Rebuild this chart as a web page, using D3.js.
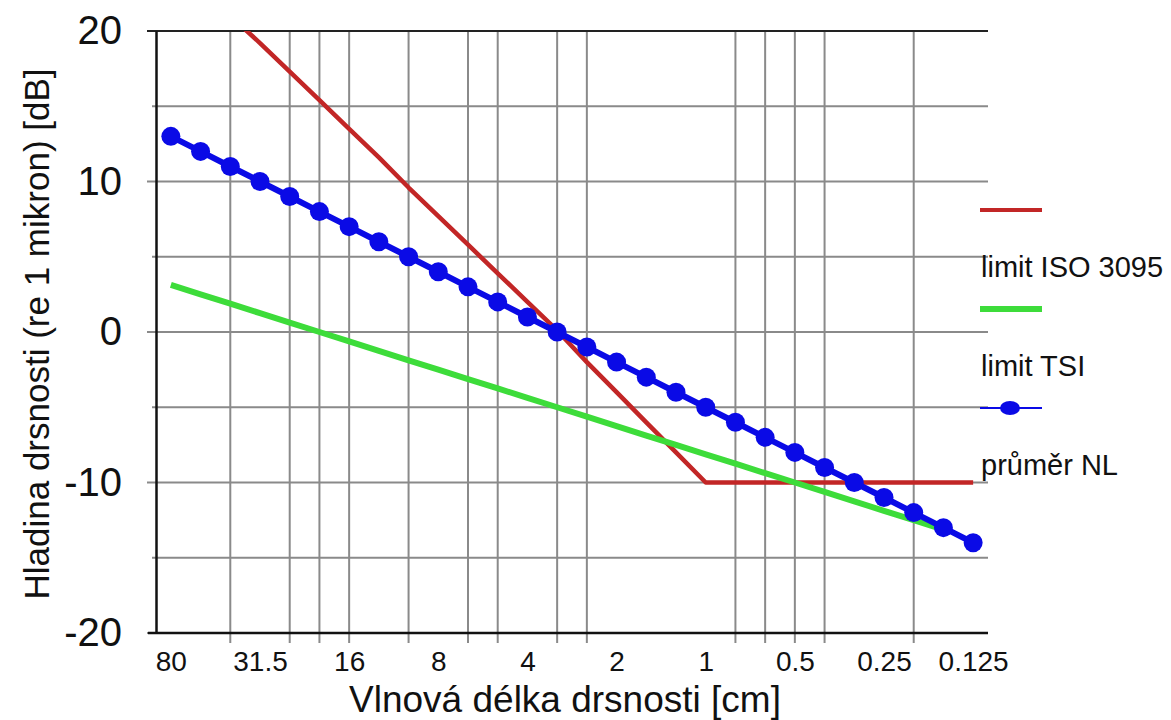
<!DOCTYPE html>
<html>
<head>
<meta charset="utf-8">
<script src="https://cdn.jsdelivr.net/npm/d3@7"></script>
<style>
  body { margin: 0; background: #fff; }
  svg { font-family: "Liberation Sans", Arial, sans-serif; }
</style>
</head>
<body>
<svg id="chart" width="1171" height="720"></svg>
<script>
// wavelength bands [cm], third-octave steps
const categories = ["80", "50", "40", "31.5", "25", "20", "16", "12.5", "10", "8",
  "6.3", "5", "4", "3.15", "2.5", "2", "1.6", "1.25", "1", "0.8",
  "0.63", "0.5", "0.4", "0.315", "0.25", "0.2", "0.16", "0.125"];
// labels shown on the x axis
const xLabels = ["80", "31.5", "16", "8", "4", "2", "1", "0.5", "0.25", "0.125"];
// bands that carry a vertical grid line
const xGrid = ["40", "25", "20", "16", "10", "6.3", "5", "3.15", "2.5", "0.8", "0.63", "0.5", "0.4", "0.2"];
const yLabels = [-20, -10, 0, 10, 20];
const yGrid = [-20, -15, -10, -5, 0, 5, 10, 15, 20];

// limit ISO 3095 [dB]
const isoLimit = [null, null, 21.0, 19.2, 17.3, 15.4, 13.5, 11.6, 9.6, 7.7,
  5.8, 3.9, 2.0, 0.1, -2.0, -4.0, -6.0, -8.0, -10, -10,
  -10, -10, -10, -10, -10, -10, -10, -10];
// limit TSI [dB]
const tsiLimit = [3.13, 2.5, 1.88, 1.25, 0.63, 0, -0.63, -1.25, -1.88, -2.5,
  -3.13, -3.75, -4.38, -5.0, -5.63, -6.25, -6.88, -7.5, -8.13, -8.75,
  -9.38, -10.0, -10.63, -11.25, -11.88, -12.5, -13.13, null];
// průměr NL [dB]
const nlAverage = [13, 12, 11, 10, 9, 8, 7, 6, 5, 4,
  3, 2, 1, 0, -1, -2, -3, -4, -5, -6,
  -7, -8, -9, -10, -11, -12, -13, -14];

const series = [
  { name: "limit ISO 3095", values: isoLimit, color: "#c22626", width: 4.5, marker: false, legendWidth: 4 },
  { name: "limit TSI", values: tsiLimit, color: "#3ddc3a", width: 6, marker: false, legendWidth: 6 },
  { name: "průměr NL", values: nlAverage, color: "#0a0ae6", width: 6, marker: true, legendWidth: 2 }
];

const plot = { left: 156, right: 988, top: 31, bottom: 633 };
const svg = d3.select("#chart");

let x = d3.scalePoint()
  .domain(categories)
  .range([plot.left, plot.right])
  .padding(0.5);

let y = d3.scaleLinear()
  .domain([-20, 20])
  .range([plot.bottom, plot.top]);

// grid
svg.append("g").selectAll("line")
  .data(xGrid)
  .enter().append("line")
  .attr("x1", d => x(d)).attr("x2", d => x(d))
  .attr("y1", plot.top).attr("y2", plot.bottom + 10)
  .attr("stroke", "#8a8a8a").attr("stroke-width", 2);

svg.append("g").selectAll("line")
  .data(yGrid)
  .enter().append("line")
  .attr("x1", d => plot.left - (d % 10 === 0 ? 9 : 4))
  .attr("x2", plot.right)
  .attr("y1", d => y(d)).attr("y2", d => y(d))
  .attr("stroke", d => d === 20 ? "#222" : "#8a8a8a")
  .attr("stroke-width", 2);

// axes
let yAxis = svg.append("g")
  .attr("transform", "translate(" + plot.left + ",0)")
  .call(d3.axisLeft(y).tickValues(yLabels).tickSize(0).tickPadding(34).tickFormat(d => String(d)));
yAxis.select(".domain").attr("stroke", "#111").attr("stroke-width", 2.5);
yAxis.selectAll("text").attr("font-size", 40).attr("fill", "#111");

let xAxis = svg.append("g")
  .attr("transform", "translate(0," + plot.bottom + ")")
  .call(d3.axisBottom(x).tickValues(xLabels).tickSize(0).tickPadding(18));
xAxis.select(".domain").attr("stroke", "#111").attr("stroke-width", 2.5)
  .attr("d", "M" + (plot.left - 8) + ",0H" + plot.right);
xAxis.selectAll("text").attr("font-size", 28).attr("fill", "#111");

// series
svg.append("defs").append("clipPath").attr("id", "plotClip")
  .append("rect")
  .attr("x", plot.left).attr("y", plot.top)
  .attr("width", plot.right - plot.left + 20)
  .attr("height", plot.bottom - plot.top);

let line = d3.line()
  .defined(d => d.v !== null)
  .x(d => x(d.c))
  .y(d => y(d.v));

let lines = svg.append("g").attr("clip-path", "url(#plotClip)");
for (let s of series) {
  let pts = s.values.map((v, i) => ({ c: categories[i], v: v }));
  lines.append("path")
    .datum(pts)
    .attr("d", line)
    .attr("fill", "none")
    .attr("stroke", s.color)
    .attr("stroke-width", s.width)
    .attr("stroke-linejoin", "round");
  if (s.marker) {
    lines.selectAll(null)
      .data(pts.filter(d => d.v !== null))
      .enter().append("circle")
      .attr("cx", d => x(d.c))
      .attr("cy", d => y(d.v))
      .attr("r", 9.5)
      .attr("fill", s.color);
  }
}

// legend
let legend = svg.append("g").attr("transform", "translate(980,210)");
series.forEach((s, i) => {
  let g = legend.append("g").attr("transform", "translate(0," + (i * 99) + ")");
  g.append("line")
    .attr("x1", 0).attr("x2", 62)
    .attr("stroke", s.color)
    .attr("stroke-width", s.legendWidth);
  if (s.marker) {
    g.append("ellipse").attr("cx", 30).attr("rx", 10).attr("ry", 7).attr("fill", s.color);
  }
  g.append("text")
    .attr("x", 1).attr("y", 67)
    .attr("font-size", 29)
    .attr("fill", "#111")
    .text(s.name);
});

// titles
svg.append("text")
  .attr("x", 565).attr("y", 712)
  .attr("text-anchor", "middle")
  .attr("font-size", 37)
  .attr("fill", "#111")
  .text("Vlnová délka drsnosti [cm]");

svg.append("text")
  .attr("transform", "translate(36,334) rotate(-90)")
  .attr("text-anchor", "middle")
  .attr("dominant-baseline", "central")
  .attr("font-size", 35)
  .attr("fill", "#111")
  .text("Hladina drsnosti (re 1 mikron) [dB]");
</script>
</body>
</html>
